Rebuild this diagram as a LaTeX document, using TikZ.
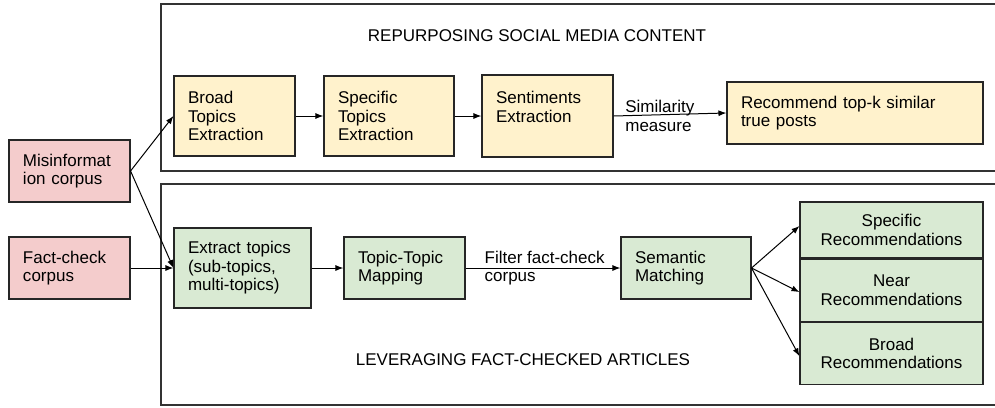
\documentclass[tikz,border=0pt]{standalone}
\usepackage{fontspec}
\setmainfont{Liberation Sans}
\usetikzlibrary{positioning,arrows.meta}
\definecolor{corpuspink}{HTML}{F4CCCC}
\definecolor{stageyellow}{HTML}{FFF2CC}
\definecolor{stagegreen}{HTML}{D9EAD3}
\begin{document}
\begin{tikzpicture}[x=1pt, y=-1pt,
      every node/.style = {font=\fontsize{17}{18.5}\selectfont},
      stagebox/.style = {shape=rectangle, draw=black!85, line width=1.1pt,
        align=left, inner xsep=14pt, inner ysep=0pt},
      corpus/.style = {stagebox, fill=corpuspink, text width=93pt, minimum height=62pt},
      social/.style = {stagebox, fill=stageyellow},
      factbox/.style = {stagebox, fill=stagegreen},
      recbox/.style = {factbox, align=center, text width=155pt, minimum height=62pt},
      panel/.style = {draw=black!80, line width=1.2pt},
      flow/.style = {-{Latex[length=8pt,width=6pt]}, line width=1pt},
      flowlabel/.style = {anchor=west, inner sep=0pt, align=left}]
    \useasboundingbox (0,0) rectangle (995,407);
    % the two pipelines
    \draw[panel] (161,4) rectangle (1010,171);
    \draw[panel] (161,184) rectangle (1010,405);
    \node (reptitle) at (537,36) {REPURPOSING SOCIAL MEDIA CONTENT};
    \node (levtitle) at (523,360) {LEVERAGING FACT-CHECKED ARTICLES};
    % inputs
    \node[corpus] (misinfo) at (69.5,171) {Misinformat\\ion corpus};
    \node[corpus] (factcheck) at (69.5,268) {Fact-check\\corpus};
    % social media content
    \node[social, text width=93pt, minimum height=80pt] (broad) at (234.5,116)
      {Broad\\Topics\\Extraction};
    \node[social, text width=102pt, minimum height=80pt] (specific) at (389,116)
      {Specific\\Topics\\Extraction};
    \node[social, text width=103pt, minimum height=82pt] (senti) at (547.5,116)
      {Sentiments\\Extraction\\\mbox{}};
    \node[social, text width=228pt, minimum height=62pt] (recom) at (855,113)
      {Recommend top-k similar\\true posts};
    % fact-checked articles
    \node[factbox, text width=109pt, minimum height=80pt] (extract) at (242.5,268)
      {Extract topics\\(sub-topics,\\multi-topics)};
    \node[factbox, text width=93pt, minimum height=62pt] (topicmap) at (404.5,268)
      {Topic-Topic\\Mapping};
    \node[factbox, text width=102pt, minimum height=62pt] (semantic) at (686,268)
      {Semantic\\Matching};
    \node[recbox, minimum height=56pt] (recspec) at (891.5,230)
      {Specific\\Recommendations};
    \node[recbox, below=0pt of recspec] (recnear) {Near\\Recommendations};
    \node[recbox, below=0pt of recnear] (recbroad) {Broad\\Recommendations};
    % connectors
    \draw[flow] (misinfo.east) -- (broad.west);
    \draw[flow] (misinfo.east) -- (extract.west);
    \draw[flow] (factcheck) -- (extract);
    \draw[flow] (broad) -- (specific);
    \draw[flow] (specific) -- (senti);
    \draw[flow] (senti.east) -- node[flowlabel, pos=0.1] (simlabel)
      {Similarity\\measure} (recom.west);
    \draw[flow] (extract) -- (topicmap);
    \draw[flow] (topicmap) -- node[flowlabel, pos=0.12] (filterlabel)
      {Filter fact-check\\corpus} (semantic);
    \draw[flow] (semantic.east) -- ([yshift=4pt]recspec.west);
    \draw[flow] (semantic.east) -- ([yshift=-2pt]recnear.west);
    \draw[flow] (semantic.east) -- ([yshift=-3pt]recbroad.west);
\end{tikzpicture}
\end{document}
